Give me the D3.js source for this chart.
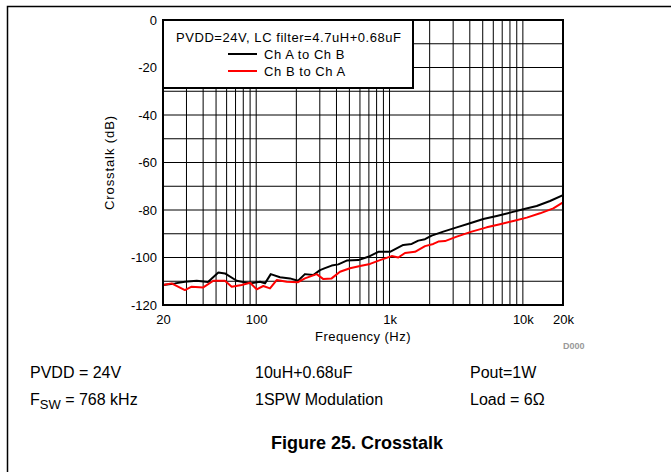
<!DOCTYPE html>
<html>
<head>
<meta charset="utf-8">
<script src="https://cdn.jsdelivr.net/npm/d3@7"></script>
<style>
  html, body { margin: 0; padding: 0; background: #fff; }
  svg { display: block; }
  text { font-family: Arial, "Liberation Sans", Helvetica, sans-serif; }
</style>
</head>
<body>
<svg id="chart" width="671" height="472"></svg>
<script>
// ---- Data ----
const freqAB = [20, 24.6, 29.2, 35.8, 43.5, 52, 58.3, 71.4, 89.9, 106.8, 116.4, 128.6, 150.8, 179, 206, 232, 268, 301, 328, 368, 413, 477, 583, 693, 824, 1008, 1268, 1466, 1644, 1846, 2070, 2530, 3192, 4014, 5050, 6368, 8010, 10070, 12700, 15980, 20000];
const dbAB = [-111.6, -110.9, -110.2, -109.8, -110.3, -106.3, -106.7, -109.8, -110.9, -110.2, -110.9, -107.0, -108.3, -108.8, -109.8, -107.0, -107.4, -105.3, -104.5, -103.4, -102.9, -101.3, -101.1, -99.7, -97.6, -97.6, -94.7, -94.3, -92.9, -92.3, -90.8, -89.1, -87.3, -85.6, -83.8, -82.5, -81.1, -79.7, -78.3, -76.2, -73.7];

const freqBA = [20, 23.2, 29.2, 32.8, 40.1, 47.7, 58.3, 65.5, 77.8, 89.9, 100.9, 113, 126.9, 142.4, 169.4, 206, 232, 284, 319, 368, 425, 505, 601, 714, 848, 1038, 1164, 1306, 1552, 1846, 2130, 2322, 2606, 3192, 4132, 5354, 6738, 8476, 10690, 13450, 16920, 20000];
const dbBA = [-111.6, -110.9, -113.7, -112.3, -112.6, -109.8, -109.8, -112.3, -111.6, -110.6, -113.4, -112.0, -113.0, -109.5, -110.2, -110.4, -108.8, -107.0, -109.1, -108.8, -106.0, -104.5, -103.6, -102.7, -101.1, -99.4, -100.0, -98.1, -97.6, -95.2, -94.3, -93.3, -93.1, -91.2, -89.1, -87.3, -86.0, -84.6, -83.2, -81.4, -79.3, -76.8];

const seriesNames = ["Ch A to Ch B", "Ch B to Ch A"];
const seriesColors = ["#000000", "#ff0000"];

const xTickValues = [20, 100, 1000, 10000, 20000];
const xTickLabels = ["20", "100", "1k", "10k", "20k"];
const yTickValues = [0, -20, -40, -60, -80, -100, -120];
const yTickLabels = ["0", "-20", "-40", "-60", "-80", "-100", "-120"];
const yGridValues = [-110, -100, -90, -80, -70, -60, -50, -40, -30, -20, -10];

const legendTitle = "PVDD=24V, LC filter=4.7uH+0.68uF";
const xTitle = "Frequency (Hz)";
const yTitle = "Crosstalk (dB)";
const figTitle = "Figure 25. Crosstalk";

// ---- Layout ----
const svg = d3.select("#chart");
const L = 163, R = 563, T = 20, B = 305;
const LS = "0.45px"; // chart text letter spacing

const x = d3.scaleLog().domain([20, 20000]).range([L, R]);
const y = d3.scaleLinear().domain([-120, 0]).range([B, T]);

// outer frame (top and left lines)
svg.append("path")
  .attr("d", `M7.5,472 L7.5,6.5 L671,6.5`)
  .attr("fill", "none").attr("stroke", "#000").attr("stroke-width", 1.5);

// grid
const g = svg.append("g");
g.selectAll("line.vg").data(x.ticks()).enter().append("line")
  .attr("x1", d => x(d)).attr("x2", d => x(d))
  .attr("y1", T).attr("y2", B)
  .attr("stroke", "#000").attr("stroke-width", 1);
g.selectAll("line.hg").data(yGridValues).enter().append("line")
  .attr("x1", L).attr("x2", R)
  .attr("y1", d => y(d)).attr("y2", d => y(d))
  .attr("stroke", "#000").attr("stroke-width", 1);

// series
const line = d3.line().x(d => x(d[0])).y(d => y(d[1]));
const dataAB = freqAB.map((f, i) => [f, dbAB[i]]);
const dataBA = freqBA.map((f, i) => [f, dbBA[i]]);
[dataAB, dataBA].forEach((d, i) => {
  svg.append("path").datum(d)
    .attr("d", line)
    .attr("fill", "none")
    .attr("stroke", seriesColors[i])
    .attr("stroke-width", 2)
    .attr("stroke-linejoin", "round");
});

// plot border
svg.append("rect")
  .attr("x", L).attr("y", T).attr("width", R - L).attr("height", B - T)
  .attr("fill", "none").attr("stroke", "#000").attr("stroke-width", 2);

// axes labels (ticks)
const yAxis = d3.axisLeft(y).tickValues(yTickValues)
  .tickFormat((d, i) => yTickLabels[i]).tickSize(0).tickPadding(6);
const ya = svg.append("g").attr("transform", `translate(${L},0)`).call(yAxis);
ya.select(".domain").remove();
ya.selectAll("text").attr("font-size", 13).attr("fill", "#000")
  .attr("font-family", "Arial, 'Liberation Sans', sans-serif");

const xAxis = d3.axisBottom(x).tickValues(xTickValues)
  .tickFormat((d, i) => xTickLabels[i]).tickSize(0).tickPadding(10);
const xa = svg.append("g").attr("transform", `translate(0,${B})`).call(xAxis);
xa.select(".domain").remove();
xa.selectAll("text").attr("font-size", 13).attr("fill", "#000")
  .attr("font-family", "Arial, 'Liberation Sans', sans-serif");

// axis titles
svg.append("text").attr("x", (L + R) / 2).attr("y", 341)
  .attr("text-anchor", "middle").attr("font-size", 13)
  .attr("letter-spacing", LS).text(xTitle);
svg.append("text")
  .attr("transform", `translate(114,${(T + B) / 2}) rotate(-90)`)
  .attr("text-anchor", "middle").attr("font-size", 13)
  .attr("letter-spacing", "0.9px").text(yTitle);

// legend
const lg = svg.append("g");
lg.append("rect").attr("x", L).attr("y", T).attr("width", 250).attr("height", 68)
  .attr("fill", "#fff").attr("stroke", "#000").attr("stroke-width", 2);
lg.append("text").attr("x", 176).attr("y", 42).attr("font-size", 13)
  .attr("letter-spacing", "0.55px").text(legendTitle);
seriesNames.forEach((name, i) => {
  const yy = 54 + i * 17;
  lg.append("line").attr("x1", 228).attr("x2", 257).attr("y1", yy).attr("y2", yy)
    .attr("stroke", seriesColors[i]).attr("stroke-width", 2);
  lg.append("text").attr("x", 264).attr("y", yy + 5).attr("font-size", 13)
    .attr("letter-spacing", "0.55px").text(name);
});

// small figure id
svg.append("text").attr("x", 563).attr("y", 349).attr("font-size", 9)
  .attr("font-weight", "bold").attr("fill", "#999").text("D000");

// conditions text
const cond = svg.append("g").attr("font-size", 16).attr("fill", "#000");
cond.append("text").attr("x", 30).attr("y", 378).text("PVDD = 24V");
cond.append("text").attr("x", 255).attr("y", 378).text("10uH+0.68uF");
cond.append("text").attr("x", 470).attr("y", 378).text("Pout=1W");
const fsw = cond.append("text").attr("x", 30).attr("y", 405);
fsw.append("tspan").text("F");
fsw.append("tspan").attr("dy", 4).attr("font-size", 13).text("SW");
fsw.append("tspan").attr("dy", -4).text(" = 768 kHz");
cond.append("text").attr("x", 255).attr("y", 405).text("1SPW Modulation");
cond.append("text").attr("x", 470).attr("y", 405).text("Load = 6\u03A9");

svg.append("text").attr("x", 357).attr("y", 449).attr("text-anchor", "middle")
  .attr("font-size", 18).attr("font-weight", "bold").text(figTitle);
</script>
</body>
</html>
